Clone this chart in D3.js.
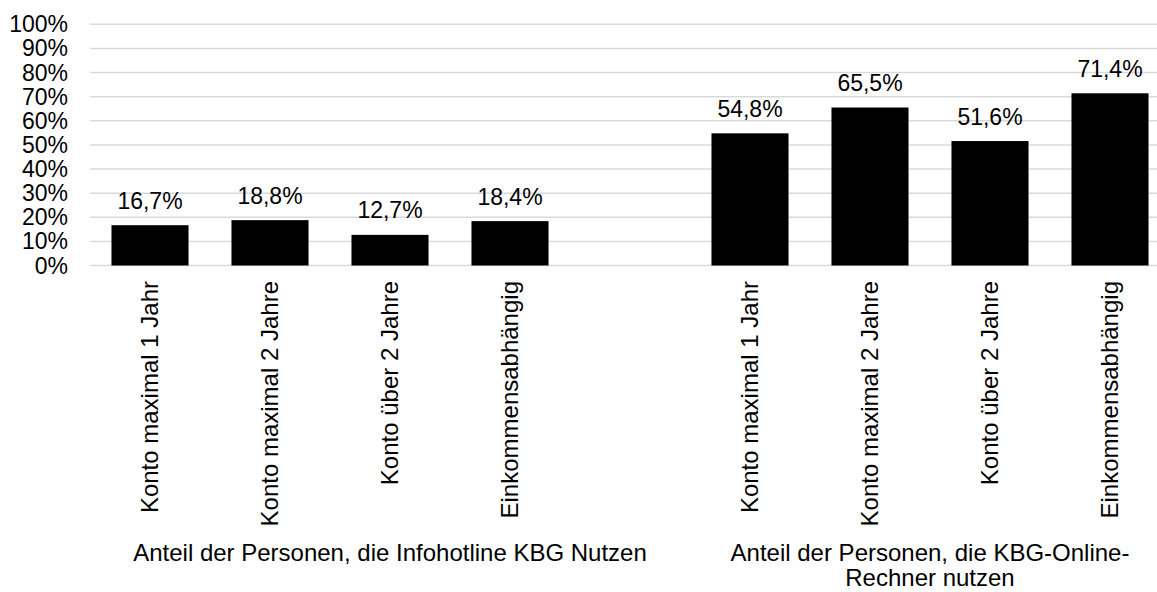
<!DOCTYPE html>
<html lang="de">
<head>
    <meta charset="UTF-8">
    <title>KBG Nutzung</title>
    <style>
        body {
            margin: 0;
            padding: 0;
            background-color: white;
            font-family: "Liberation Sans", Arial, sans-serif;
        }

        .grid line {
            stroke: #d9d9d9;
            stroke-width: 1.5px;
        }

        text {
            fill: #000000;
            font-size: 23px;
        }

        .cat, .group {
            font-size: 24px;
        }
    </style>
</head>
<body>
    <div id="container"></div>

    <script src="https://d3js.org/d3.v7.min.js"></script>
    <script>
        // Chart data
        const categories = ["Konto maximal 1 Jahr", "Konto maximal 2 Jahre", "Konto über 2 Jahre", "Einkommensabhängig"];
        const hotlineValues = [16.7, 18.8, 12.7, 18.4];
        const rechnerValues = [54.8, 65.5, 51.6, 71.4];
        const groupLabels = [
            ["Anteil der Personen, die Infohotline KBG Nutzen"],
            ["Anteil der Personen, die KBG-Online-", "Rechner nutzen"]
        ];
        const yTicks = [0, 10, 20, 30, 40, 50, 60, 70, 80, 90, 100];

        const width = 1157;
        const height = 592;

        // Build the slots: group 1 has an empty fifth slot as spacer
        const slots = [];
        categories.forEach((c, i) => slots.push({key: "a" + i, label: c, value: hotlineValues[i], group: 0}));
        slots.push({key: "gap", label: "", value: null, group: 0});
        categories.forEach((c, i) => slots.push({key: "b" + i, label: c, value: rechnerValues[i], group: 1}));

        const svg = d3.select("#container")
            .append("svg")
            .attr("width", width)
            .attr("height", height)
            .style("background-color", "white")
            .style("display", "block");

        const x = d3.scaleBand()
            .domain(slots.map(d => d.key))
            .range([90, 1170])
            .paddingInner(0.358)
            .paddingOuter(0.179);

        const y = d3.scaleLinear()
            .domain([0, 100])
            .range([265.5, 24.3]);

        const fmt = v => d3.format(".1f")(v).replace(".", ",") + "%";

        // Gridlines
        svg.append("g")
            .attr("class", "grid")
            .selectAll("line")
            .data(yTicks)
            .enter()
            .append("line")
            .attr("x1", 90)
            .attr("x2", 1170)
            .attr("y1", d => y(d))
            .attr("y2", d => y(d));

        // Y axis labels
        svg.append("g")
            .selectAll("text")
            .data(yTicks)
            .enter()
            .append("text")
            .attr("x", 68)
            .attr("y", d => y(d))
            .attr("dy", "0.35em")
            .attr("text-anchor", "end")
            .text(d => d + "%");

        const bars = slots.filter(d => d.value !== null);

        // Bars
        svg.append("g")
            .selectAll("rect")
            .data(bars)
            .enter()
            .append("rect")
            .attr("x", d => x(d.key))
            .attr("width", x.bandwidth())
            .attr("y", d => y(d.value))
            .attr("height", d => y(0) - y(d.value))
            .attr("fill", "#000000");

        // Value labels
        svg.append("g")
            .selectAll("text")
            .data(bars)
            .enter()
            .append("text")
            .attr("x", d => x(d.key) + x.bandwidth() / 2)
            .attr("y", d => y(d.value) - 16.5)
            .attr("text-anchor", "middle")
            .text(d => fmt(d.value));

        // Rotated category labels
        svg.append("g")
            .selectAll("text")
            .data(bars)
            .enter()
            .append("text")
            .attr("class", "cat")
            .attr("transform", d => `translate(${x(d.key) + x.bandwidth() / 2},${y(0) + 15.5}) rotate(-90)`)
            .attr("dy", "0.35em")
            .attr("text-anchor", "end")
            .text(d => d.label);

        // Group labels, centred under their slots
        const half = x.step() / 2;
        groupLabels.forEach((lines, g) => {
            const keys = slots.filter(d => d.group === g).map(d => d.key);
            const x0 = x(keys[0]) + x.bandwidth() / 2 - half;
            const x1 = x(keys[keys.length - 1]) + x.bandwidth() / 2 + half;
            const t = svg.append("text")
                .attr("class", "group")
                .attr("text-anchor", "middle")
                .attr("y", 561);
            lines.forEach((line, i) => {
                t.append("tspan")
                    .attr("x", (x0 + x1) / 2)
                    .attr("dy", i === 0 ? 0 : 25)
                    .text(line);
            });
        });
    </script>
</body>
</html>
